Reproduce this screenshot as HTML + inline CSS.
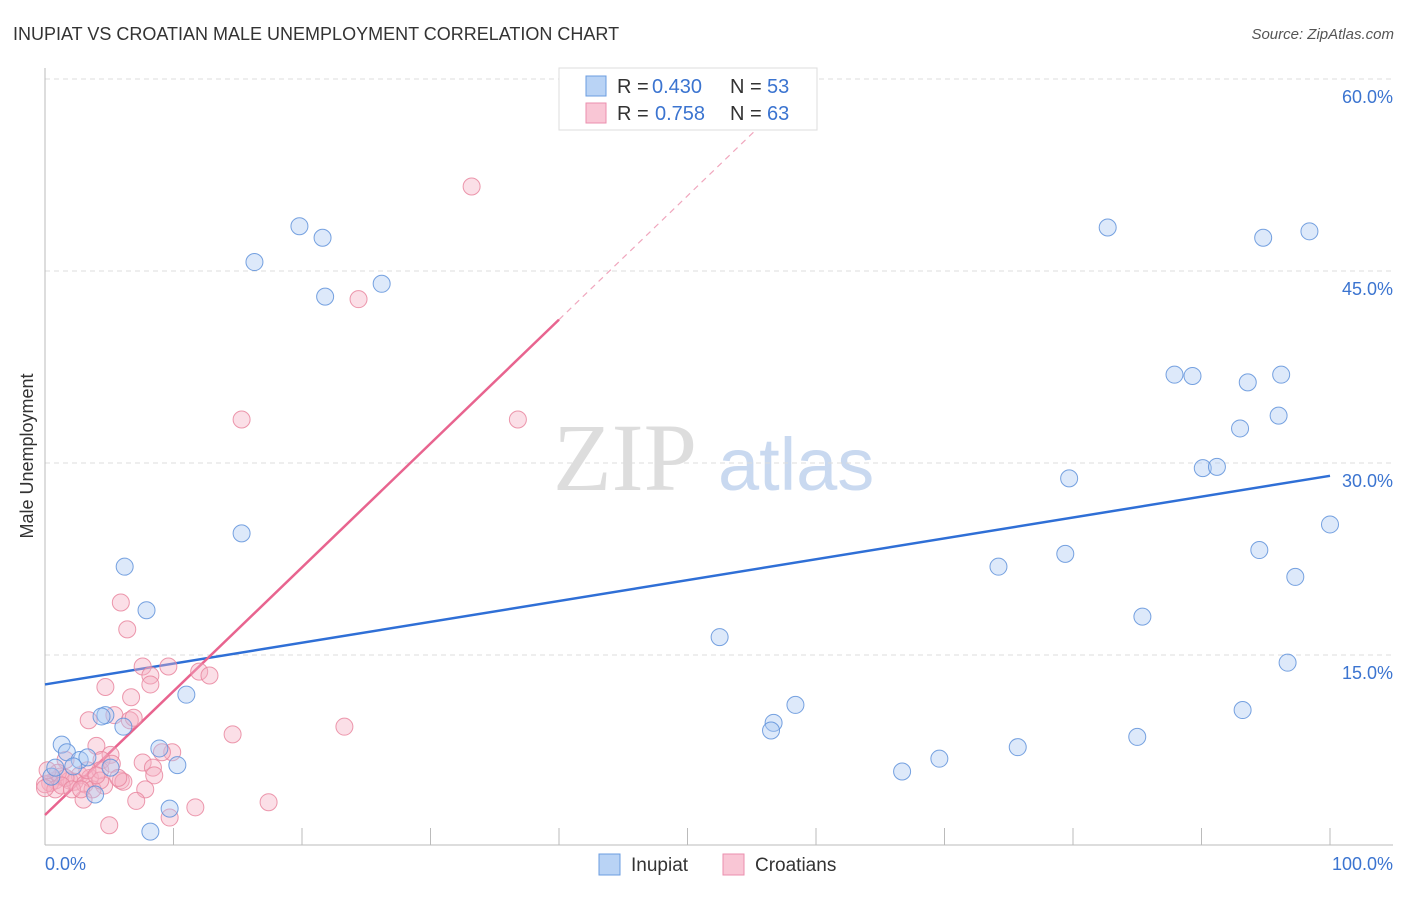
<!DOCTYPE html>
<html><head><meta charset="utf-8"><style>
body{margin:0;background:#fff;font-family:"Liberation Sans",sans-serif}
</style></head><body>
<svg id="chart" width="1406" height="892" viewBox="0 0 1406 892" xmlns="http://www.w3.org/2000/svg" style="font-family:'Liberation Sans',sans-serif">
<text x="13" y="40" font-size="18" fill="#333">INUPIAT VS CROATIAN MALE UNEMPLOYMENT CORRELATION CHART</text>
<text x="1394" y="39" font-size="15" fill="#555" font-style="italic" text-anchor="end">Source: ZipAtlas.com</text>
<text transform="translate(33,456) rotate(-90)" font-size="18" fill="#333" text-anchor="middle">Male Unemployment</text>
<g>
<text x="553" y="490" font-size="96" fill="#ddd" font-family="Liberation Serif,serif">ZIP</text>
<text x="718" y="490" font-size="74" fill="#c9d9f0">atlas</text>
</g>
<g id="grid"></g><g id="axes"></g><g id="lines"></g><g id="pts"></g>
<g>
<rect x="559" y="68" width="258" height="62" fill="#fff" stroke="#ddd"/>
<rect x="586" y="76" width="20" height="20" fill="#b9d3f5" stroke="#6b9de0"/>
<text x="617" y="93" font-size="20" fill="#333">R =</text>
<text x="652" y="93" font-size="20" fill="#3b74d0">0.430</text>
<text x="730" y="93" font-size="20" fill="#333">N =</text>
<text x="767" y="93" font-size="20" fill="#3b74d0">53</text>
<rect x="586" y="103" width="20" height="20" fill="#f9c6d5" stroke="#eb8fae"/>
<text x="617" y="120" font-size="20" fill="#333">R =</text>
<text x="655" y="120" font-size="20" fill="#3b74d0">0.758</text>
<text x="730" y="120" font-size="20" fill="#333">N =</text>
<text x="767" y="120" font-size="20" fill="#3b74d0">63</text>
</g>
<g>
<rect x="599" y="854" width="21" height="21" fill="#b9d3f5" stroke="#6b9de0"/>
<text x="631" y="871" font-size="19" fill="#333">Inupiat</text>
<rect x="723" y="854" width="21" height="21" fill="#f9c6d5" stroke="#eb8fae"/>
<text x="755" y="871" font-size="19" fill="#333">Croatians</text>
</g>
</svg>
<script>
const yTicks=[15,30,45,60];
const yTickLabels=["15.0%","30.0%","45.0%","60.0%"];
const xTickLabels=["0.0%","100.0%"];
const inupiatX=[19.8,21.6,16.3,21.8,26.2,15.3,6.2,7.9,11.0,4.7,4.4,6.1,1.3,1.7,2.7,3.3,2.2,5.1,8.9,10.3,3.9,0.5,9.7,8.2,82.7,94.8,98.4,87.9,89.3,93.6,96.2,96.0,93.0,90.1,91.2,79.7,100,79.4,94.5,74.2,97.3,85.4,52.5,96.7,58.4,56.7,56.5,93.2,85.0,75.7,69.6,66.7,0.8];
const inupiatY=[48.5,47.6,45.7,43.0,44.0,24.5,21.9,18.5,11.9,10.3,10.2,9.4,8.0,7.4,6.8,7.0,6.3,6.2,7.7,6.4,4.1,5.5,3.0,1.2,48.4,47.6,48.1,36.9,36.8,36.3,36.9,33.7,32.7,29.6,29.7,28.8,25.2,22.9,23.2,21.9,21.1,18.0,16.4,14.4,11.1,9.7,9.1,10.7,8.6,7.8,6.9,5.9,6.2];
const croatX=[33.2,24.4,15.3,36.8,5.9,6.4,7.6,9.6,8.2,8.2,4.7,12.0,12.8,6.7,3.4,5.4,6.6,6.9,14.6,23.3,4.0,9.9,9.1,5.1,4.4,7.6,8.4,8.5,5.9,6.1,4.6,1.6,2.7,1.2,0.8,0.4,0.0,1.9,3.5,2.3,3.1,3.7,0.8,0.0,1.0,1.6,7.8,7.1,3.0,17.4,11.7,9.7,5.0,4.3,5.2,0.2,1.3,2.1,4.3,5.7,2.8,3.3,4.0];
const croatY=[51.6,42.8,33.4,33.4,19.1,17.0,14.1,14.1,13.4,12.7,12.5,13.7,13.4,11.7,9.9,10.3,9.9,10.1,8.8,9.4,7.9,7.4,7.4,7.2,6.8,6.6,6.2,5.6,5.2,5.1,4.8,6.8,5.6,5.5,5.2,5.0,4.9,5.2,5.4,5.1,4.9,4.5,4.5,4.6,5.8,5.4,4.5,3.6,3.7,3.5,3.1,2.3,1.7,6.0,6.5,6.0,4.8,4.5,5.2,5.4,4.5,6.0,5.6];
const inupiatTrend=[12.7,29.0];
const croatTrend=[2.5,0.9675];
const NS="http://www.w3.org/2000/svg";
const X=v=>45+v*12.85, Y=v=>847-v*12.8;
function mk(tag,attrs,parent){const e=document.createElementNS(NS,tag);for(const k in attrs)e.setAttribute(k,attrs[k]);parent.appendChild(e);return e;}
const grid=document.getElementById('grid'),axes=document.getElementById('axes'),lines=document.getElementById('lines'),pts=document.getElementById('pts');
yTicks.forEach((t,i)=>{
 const g=mk('line',{x1:45,x2:1393,y1:Y(t),y2:Y(t),stroke:'#ddd','stroke-dasharray':'5,4'},grid);
 
 
 const l=mk('text',{x:1393,y:Y(t)+24,'font-size':18,fill:'#3b74d0','text-anchor':'end'},axes);
 l.textContent=yTickLabels[i];
 
 
});
const ya=mk('line',{x1:45,x2:45,y1:68,y2:845,stroke:'#bbb'},axes);


const xa=mk('line',{x1:45,x2:1393,y1:845,y2:845,stroke:'#bbb'},axes);


for(let i=1;i<=10;i++){const t=mk('line',{x1:X(i*10),x2:X(i*10),y1:828,y2:845,stroke:'#bbb'},axes);
 
 }
[[0,'start',45],[100,'end',1393]].forEach((d,i)=>{const t=mk('text',{x:d[2],y:870,'font-size':18,fill:'#3b74d0','text-anchor':d[1]},axes);t.textContent=xTickLabels[i];
 
 });
function dots(xs,ys,fill,stroke,name){xs.forEach((x,i)=>{const c=mk('circle',{cx:X(x),cy:Y(ys[i]),r:8.5,fill:fill,'fill-opacity':0.4,stroke:stroke,'stroke-width':1,'stroke-opacity':0.85},pts);
 
 });}
dots(croatX,croatY,'#f5aec4','#e9869f','croatian-point');
dots(inupiatX,inupiatY,'#a9c9f2','#5f92da','inupiat-point');
const bl=mk('line',{x1:X(0),y1:Y(inupiatTrend[0]),x2:X(100),y2:Y(inupiatTrend[1]),stroke:'#2f6fd6','stroke-width':2.5},lines);


const cy=x=>croatTrend[0]+croatTrend[1]*x;
const pl=mk('line',{x1:X(0),y1:Y(cy(0)),x2:X(40),y2:Y(cy(40)),stroke:'#e8648f','stroke-width':2.5},lines);


const pd=mk('line',{x1:X(40),y1:Y(cy(40)),x2:X(56),y2:Y(cy(56)),stroke:'#f0a6bd','stroke-width':1.2,'stroke-dasharray':'6,5'},lines);


</script>
</body></html>
